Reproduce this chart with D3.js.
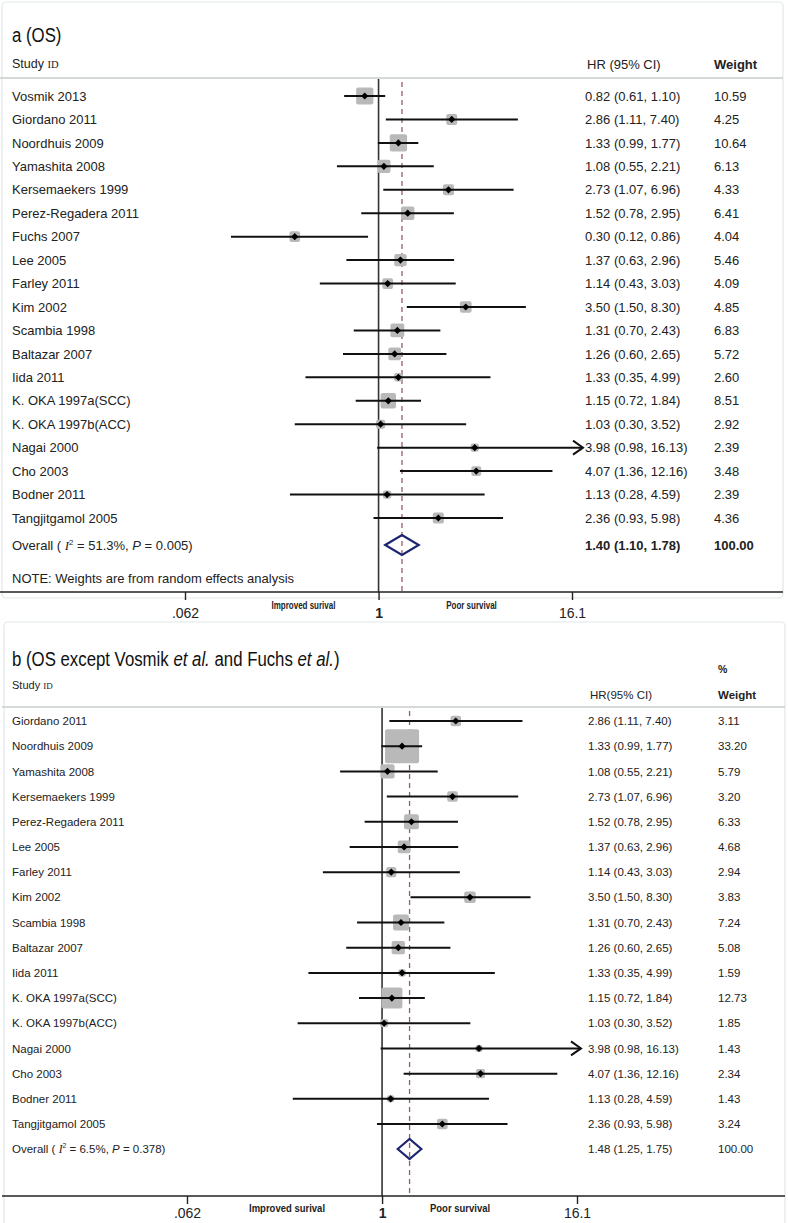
<!DOCTYPE html>
<html><head><meta charset="utf-8">
<script src="https://cdn.jsdelivr.net/npm/d3@7"></script>
<style>
body{margin:0;background:#fff;}
svg{display:block;}
text{font-family:'Liberation Sans',Arial,sans-serif;fill:#222;}
</style></head>
<body>
<svg id="c" width="788" height="1223"></svg>
<script>
// ---------- Data: panel a ----------
const studiesA = ["Vosmik 2013","Giordano 2011","Noordhuis 2009","Yamashita 2008","Kersemaekers 1999","Perez-Regadera 2011","Fuchs 2007","Lee 2005","Farley 2011","Kim 2002","Scambia 1998","Baltazar 2007","Iida 2011","K. OKA  1997a(SCC)","K. OKA  1997b(ACC)","Nagai 2000","Cho 2003","Bodner 2011","Tangjitgamol 2005"];
const hrA   = [0.82,2.86,1.33,1.08,2.73,1.52,0.30,1.37,1.14,3.50,1.31,1.26,1.33,1.15,1.03,3.98,4.07,1.13,2.36];
const lowA  = [0.61,1.11,0.99,0.55,1.07,0.78,0.12,0.63,0.43,1.50,0.70,0.60,0.35,0.72,0.30,0.98,1.36,0.28,0.93];
const highA = [1.10,7.40,1.77,2.21,6.96,2.95,0.86,2.96,3.03,8.30,2.43,2.65,4.99,1.84,3.52,16.13,12.16,4.59,5.98];
const wA    = ["10.59","4.25","10.64","6.13","4.33","6.41","4.04","5.46","4.09","4.85","6.83","5.72","2.60","8.51","2.92","2.39","3.48","2.39","4.36"];
const overallA = {hr:1.40, low:1.10, high:1.78, w:"100.00", i2:"51.3%", p:"0.005"};

// ---------- Data: panel b ----------
const studiesB = ["Giordano 2011","Noordhuis 2009","Yamashita 2008","Kersemaekers 1999","Perez-Regadera 2011","Lee 2005","Farley 2011","Kim 2002","Scambia 1998","Baltazar 2007","Iida 2011","K. OKA  1997a(SCC)","K. OKA  1997b(ACC)","Nagai 2000","Cho 2003","Bodner 2011","Tangjitgamol 2005"];
const hrB   = [2.86,1.33,1.08,2.73,1.52,1.37,1.14,3.50,1.31,1.26,1.33,1.15,1.03,3.98,4.07,1.13,2.36];
const lowB  = [1.11,0.99,0.55,1.07,0.78,0.63,0.43,1.50,0.70,0.60,0.35,0.72,0.30,0.98,1.36,0.28,0.93];
const highB = [7.40,1.77,2.21,6.96,2.95,2.96,3.03,8.30,2.43,2.65,4.99,1.84,3.52,16.13,12.16,4.59,5.98];
const wB    = ["3.11","33.20","5.79","3.20","6.33","4.68","2.94","3.83","7.24","5.08","1.59","12.73","1.85","1.43","2.34","1.43","3.24"];
const overallB = {hr:1.48, low:1.25, high:1.75, w:"100.00", i2:"6.5%", p:"0.378"};

const tickVals = [0.062, 1, 16.1];
const tickLabels = [".062","1","16.1"];
const captions = ["Improved surival","Poor survival"];

const svg = d3.select("#c");
const fmt = d3.format(".2f");

function panel(o){
  const g = svg.append("g");
  // frame
  g.append("rect").attr("x",o.frame[0]).attr("y",o.frame[1]).attr("width",o.frame[2]).attr("height",o.frame[3])
    .attr("rx",4).attr("fill","none").attr("stroke","#e2e8e8").attr("stroke-width",1.2);
  const x = d3.scaleLog().domain([0.062,16.1]).range(o.xr);
  const idx = d3.range(o.studies.length);
  const y = d3.scalePoint().domain(idx).range(o.yr);
  const yOv = o.yr[1] + o.ovGap;
  const base = i => y(i)+o.fs*0.36;

  // title (condensed)
  const t = g.append("text").attr("transform",`translate(12,${o.titleY}) scale(0.8,1)`)
    .attr("font-size",o.titleSize).style("fill","#111");
  o.title.forEach(p=>t.append("tspan").text(p[0]).attr("font-style",p[1]?"italic":null));

  // headers
  const sh = g.append("text").attr("x",12).attr("y",o.headY).attr("font-size",o.fs-0.5);
  sh.append("tspan").text("Study ");
  sh.append("tspan").text("ID").attr("font-family","'Liberation Serif',serif").attr("font-size",o.fs-2.5);
  g.append("text").attr("x",o.hrX+2).attr("y",o.headY2).attr("font-size",o.fs).text(o.hrHead);
  g.append("text").attr("x",o.wX).attr("y",o.headY2).attr("font-size",o.fs).attr("font-weight",o.wBold?"bold":null).text("Weight");
  if(o.pct) g.append("text").attr("x",o.wX).attr("y",o.headY2-26).attr("font-size",o.fs-1).attr("font-weight","bold").text("%");
  g.append("line").attr("x1",o.frame[0]-2).attr("x2",o.frame[0]+o.frame[2]).attr("y1",o.sepY).attr("y2",o.sepY)
    .attr("stroke","#c8cccc").attr("stroke-width",1.5);

  // reference lines
  g.append("line").attr("x1",x(1)).attr("x2",x(1)).attr("y1",o.sepY+1).attr("y2",o.axisY)
    .attr("stroke","#333").attr("stroke-width",1.6);
  g.append("line").attr("x1",x(o.ov.hr)).attr("x2",x(o.ov.hr)).attr("y1",o.sepY+4).attr("y2",o.axisY)
    .attr("stroke","#9b5f62").attr("stroke-width",1.3).attr("stroke-dasharray","5,4");

  // boxes (area proportional to weight)
  const side = i => o.k*Math.sqrt(+o.w[i]);
  g.selectAll(".box").data(idx).join("rect")
    .attr("x",i=>x(o.hr[i])-side(i)/2)
    .attr("y",i=>y(i)-side(i)/2)
    .attr("width",side).attr("height",side)
    .attr("rx",2).attr("fill","#b9b9b9");
  // CI lines
  const xmax = o.xr[1];
  const hi = i => o.high[i]>16.1 ? xmax+o.arrowExt : x(o.high[i]);
  g.selectAll(".ci").data(idx).join("line")
    .attr("x1",i=>x(o.low[i])).attr("x2",hi)
    .attr("y1",y).attr("y2",y).attr("stroke","#111").attr("stroke-width",2);
  // arrows
  idx.filter(i=>o.high[i]>16.1).forEach(i=>{
    const tx = hi(i);
    g.append("path").attr("d",`M${tx-10},${y(i)-7}L${tx},${y(i)}L${tx-10},${y(i)+7}`)
      .attr("fill","none").attr("stroke","#111").attr("stroke-width",2);
  });
  // point markers
  g.selectAll(".pt").data(idx).join("path")
    .attr("transform",i=>`translate(${x(o.hr[i])},${y(i)}) rotate(45)`)
    .attr("d",d3.symbol(d3.symbolSquare,26)).attr("fill","#000");

  // labels
  g.selectAll(".lab").data(idx).join("text").attr("x",12).attr("y",base)
    .attr("font-size",o.fs).text(i=>o.studies[i]);
  g.selectAll(".hrt").data(idx).join("text").attr("x",o.hrX).attr("y",base)
    .attr("font-size",o.fs).text(i=>`${fmt(o.hr[i])} (${fmt(o.low[i])}, ${fmt(o.high[i])})`);
  g.selectAll(".wt").data(idx).join("text").attr("x",o.wX).attr("y",base)
    .attr("font-size",o.fs).text(i=>o.w[i]);

  // overall
  const dh = o.dh;
  g.append("path").attr("d",`M${x(o.ov.low)},${yOv}L${x(o.ov.hr)},${yOv-dh}L${x(o.ov.high)},${yOv}L${x(o.ov.hr)},${yOv+dh}Z`)
    .attr("fill","none").attr("stroke","#1d2570").attr("stroke-width",2.2);
  const oy = yOv+o.fs*0.36;
  const ot = g.append("text").attr("x",12).attr("y",oy).attr("font-size",o.fs);
  ot.append("tspan").text("Overall  ( ");
  ot.append("tspan").text("I").attr("font-style","italic").attr("font-family","'Liberation Serif',serif");
  ot.append("tspan").text("2").attr("font-size",o.fs*0.6).attr("dy",-5);
  ot.append("tspan").text(` = ${o.ov.i2}, `).attr("dy",5);
  ot.append("tspan").text("P").attr("font-style","italic");
  ot.append("tspan").text(` = ${o.ov.p})`);
  g.append("text").attr("x",o.hrX).attr("y",oy).attr("font-size",o.fs)
    .attr("font-weight",o.ovBold?"bold":null).text(`${fmt(o.ov.hr)} (${fmt(o.ov.low)}, ${fmt(o.ov.high)})`);
  g.append("text").attr("x",o.wX).attr("y",oy).attr("font-size",o.fs)
    .attr("font-weight",o.ovBold?"bold":null).text(o.ov.w);

  if(o.note) g.append("text").attr("x",12).attr("y",o.noteY).attr("font-size",o.fs).text(o.note);

  // axis
  g.append("line").attr("x1",o.frame[0]-2).attr("x2",o.frame[0]+o.frame[2]).attr("y1",o.axisY).attr("y2",o.axisY)
    .attr("stroke","#222").attr("stroke-width",1.6);
  const ax = g.append("g").attr("transform",`translate(0,${o.axisY})`)
    .call(d3.axisBottom(x).tickValues(tickVals).tickFormat((d,i)=>tickLabels[i]).tickSize(8).tickPadding(o.tickPad));
  ax.select(".domain").remove();
  ax.selectAll(".tick line").attr("stroke","#222").attr("stroke-width",1.4);
  ax.selectAll(".tick text").attr("font-size",14).attr("font-family","'Liberation Sans',Arial,sans-serif")
    .attr("fill","#222").attr("font-weight",(d,i)=>i===1?"bold":null);
  o.capAt.forEach((v,i)=>{
    g.append("text").attr("transform",`translate(${x(v)},${o.axisY+o.capDy}) scale(${o.capScale},1)`).attr("text-anchor","middle")
      .attr("font-size",10).attr("font-weight","bold").text(captions[i]);
  });
}

panel({
  frame:[2,2,781,596], xr:[185,572], yr:[96,518], ovGap:27,
  title:[["a (OS)",false]], titleX:12, titleY:42, titleSize:21,
  headY:68, headY2:69, sepY:78, hrX:585, wX:714, hrHead:"HR (95% CI)", wBold:true, pct:false,
  fs:13, k:5.3, dh:10, arrowExt:11,
  studies:studiesA, hr:hrA, low:lowA, high:highA, w:wA, ov:overallA, ovBold:true,
  note:"NOTE: Weights are from random effects analysis", noteY:583, axisY:592, capDy:17, tickPad:8,
  capAt:[0.34, 3.8], capScale:0.8
});
panel({
  frame:[4,622,781,640], xr:[187,577], yr:[721,1124], ovGap:25,
  title:[["b (OS except  Vosmik ",false],["et al.",true],[" and Fuchs ",false],["et al.",true],[")",false]],
  titleX:12, titleY:666, titleSize:21,
  headY:689, headY2:699, sepY:707, hrX:588, wX:718, hrHead:"HR(95% CI)", wBold:true, pct:true,
  fs:11.5, k:5.9, dh:10, arrowExt:4,
  studies:studiesB, hr:hrB, low:lowB, high:highB, w:wB, ov:overallB, ovBold:false,
  note:null, axisY:1196, capDy:16, tickPad:4,
  capAt:[0.258, 3.04], capScale:0.95
});
</script>
</body></html>
